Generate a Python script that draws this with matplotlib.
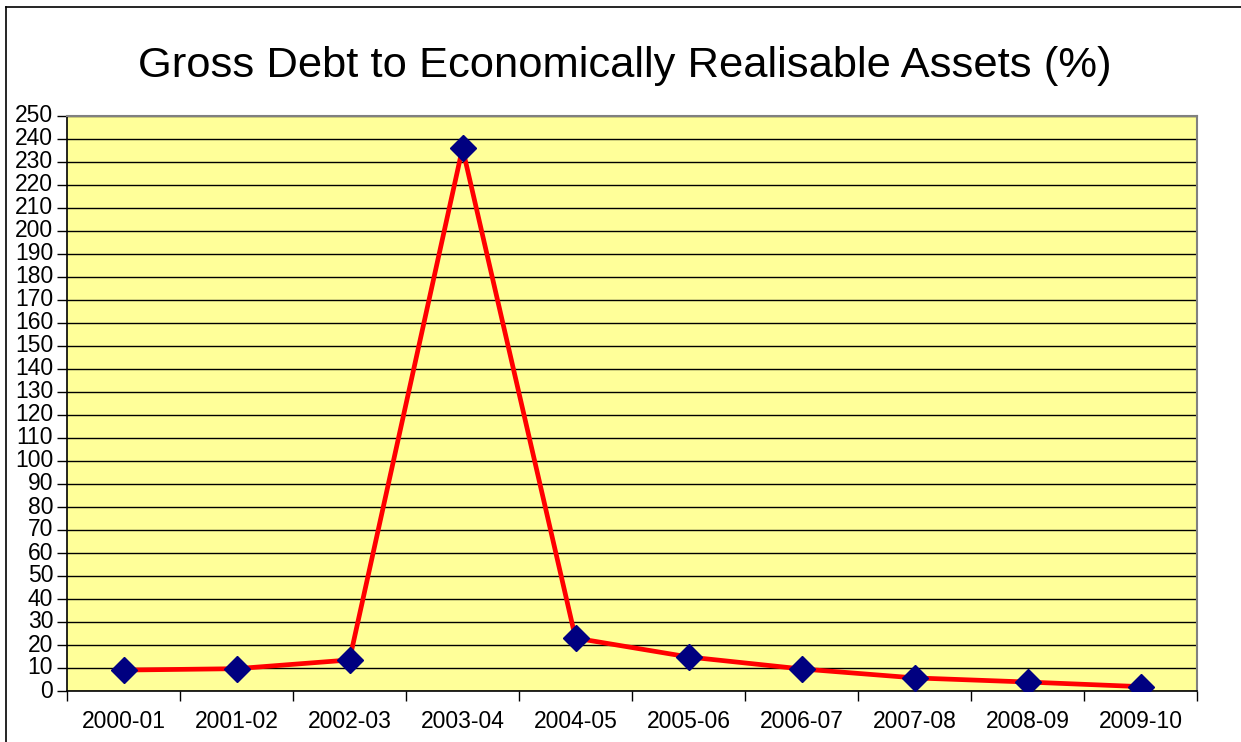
import matplotlib
matplotlib.use("Agg")
import matplotlib.pyplot as plt
from matplotlib.ticker import MultipleLocator, FixedLocator, NullFormatter
from matplotlib.lines import Line2D

categories = ["2000-01", "2001-02", "2002-03", "2003-04", "2004-05",
              "2005-06", "2006-07", "2007-08", "2008-09", "2009-10"]
values = [9.1, 9.7, 13.5, 236, 23, 14.8, 9.6, 5.7, 3.9, 1.9]
title = "Gross Debt to Economically Realisable Assets (%)"

plt.rcParams['font.family'] = ['Liberation Sans', 'DejaVu Sans']

fig = plt.figure(figsize=(12.41, 7.42), dpi=100)
W, H = 1241, 742
left, right, top, bottom = 67, 1197, 116, 691
ax = fig.add_axes([left / W, 1 - bottom / H, (right - left) / W, (bottom - top) / H])
ax.set_facecolor("#FFFF99")

x = list(range(len(categories)))
ax.plot(x, values, color="#FF0000", lw=3.4, marker="D", markersize=13,
        markerfacecolor="#000080", markeredgecolor="#000080", zorder=3,
        solid_joinstyle="miter")

ax.set_xlim(-0.5, len(categories) - 0.5)
ax.set_ylim(0, 250)
ax.yaxis.set_major_locator(MultipleLocator(10))
ax.grid(axis="y", color="black", lw=1.0, zorder=1)
ax.set_axisbelow(True)

ax.set_xticks(x)
ax.set_xticklabels(categories, fontsize=16.5)
ax.tick_params(axis="x", which="major", length=0, pad=14)
ax.xaxis.set_minor_locator(FixedLocator([i - 0.5 for i in range(len(categories) + 1)]))
ax.xaxis.set_minor_formatter(NullFormatter())
ax.tick_params(axis="x", which="minor", length=7, width=1, direction="out", color="black")
ax.tick_params(axis="y", labelsize=16.5, length=7, width=1, direction="out", pad=3)
for lbl in ax.get_yticklabels():
    lbl.set_verticalalignment("center")

for s in ["left", "bottom"]:
    ax.spines[s].set_color("black")
    ax.spines[s].set_linewidth(1.2)
for s in ["top", "right"]:
    ax.spines[s].set_color("#808080")
    ax.spines[s].set_linewidth(1.5)

fig.text(625 / W, 1 - 66 / H, title, ha="center", va="center", fontsize=31.3)

# outer chart border (top and left)
fig.add_artist(Line2D([6 / W, 1 / 1.0], [1 - 7 / H, 1 - 7 / H], color="black", lw=1.2))
fig.add_artist(Line2D([6 / W, 6 / W], [0, 1 - 7 / H], color="black", lw=1.2))

fig.savefig("out.png", dpi=100)
